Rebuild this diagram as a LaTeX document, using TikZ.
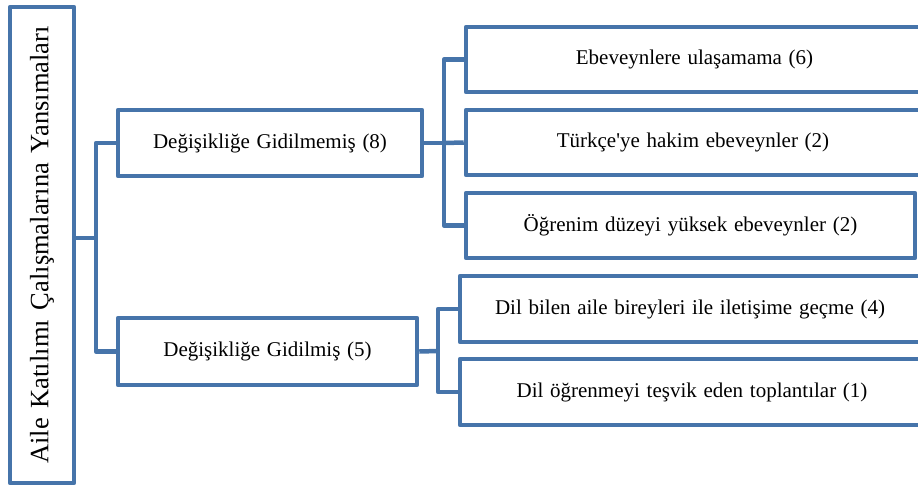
\documentclass[tikz,border=0pt]{standalone}
\usepackage{fontspec}
\setmainfont{Liberation Serif}
\definecolor{sblue}{RGB}{70,116,170}
\newcommand\myboxfont{\fontsize{21}{25}\selectfont\spaceskip=0.32em plus 0.1em\relax}
\newcommand\myrootfont{\fontsize{26.5}{30}\selectfont\spaceskip=0.37em plus 0.1em\relax}
\begin{document}
\begin{tikzpicture}[x=1pt,y=-1pt,
  box/.style={draw=sblue, line width=4.5pt, fill=white, line join=round, inner sep=0pt, font=\myboxfont},
  conn/.style={draw=sblue, line width=4.5pt, line join=round}]
\useasboundingbox (0,0) rectangle (918,491);
\clip (0,0) rectangle (918,491);
\node[box, rotate=90, minimum width=476pt, minimum height=64pt, font=\myrootfont] (root) at (42,245) {Aile Katılımı Çalışmalarına Yansımaları};
\node[box, minimum width=304pt, minimum height=66pt] (g8) at (270,143) {Değişikliğe Gidilmemiş (8)};
\node[box, minimum width=299pt, minimum height=67pt] (g5) at (267.5,351.5) {Değişikliğe Gidilmiş (5)};
\node[box, minimum width=457pt, minimum height=65pt] (e6) at (694.5,59.5) {Ebeveynlere ulaşamama (6)};
\node[box, minimum width=454pt, minimum height=65pt] (t2) at (693,142.5) {Türkçe\textquotesingle ye hakim ebeveynler (2)};
\node[box, minimum width=449pt, minimum height=65pt] (o2) at (690.5,225.5) {Öğrenim düzeyi yüksek ebeveynler (2)};
\node[box, minimum width=460pt, minimum height=66pt] (d4) at (690,309) {Dil bilen aile bireyleri ile iletişime geçme (4)};
\node[box, minimum width=464pt, minimum height=66pt] (d1) at (692,392) {Dil öğrenmeyi teşvik eden toplantılar (1)};
\coordinate (ja) at (96,238);
\coordinate (jb) at (444,143);
\coordinate (jc) at (438,351);
\draw[conn] (root.south |- ja) -- (ja);
\draw[conn] (g8.west) -| (ja) |- (g5.west);
\draw[conn] (g8.east) -- (jb);
\draw[conn] (e6.west) -| (jb) |- (o2.west);
\draw[conn] (jb) -- (t2.west);
\draw[conn] (g5.east) -- (jc);
\draw[conn] (d4.west) -| (jc) |- (d1.west);
\end{tikzpicture}
\end{document}
